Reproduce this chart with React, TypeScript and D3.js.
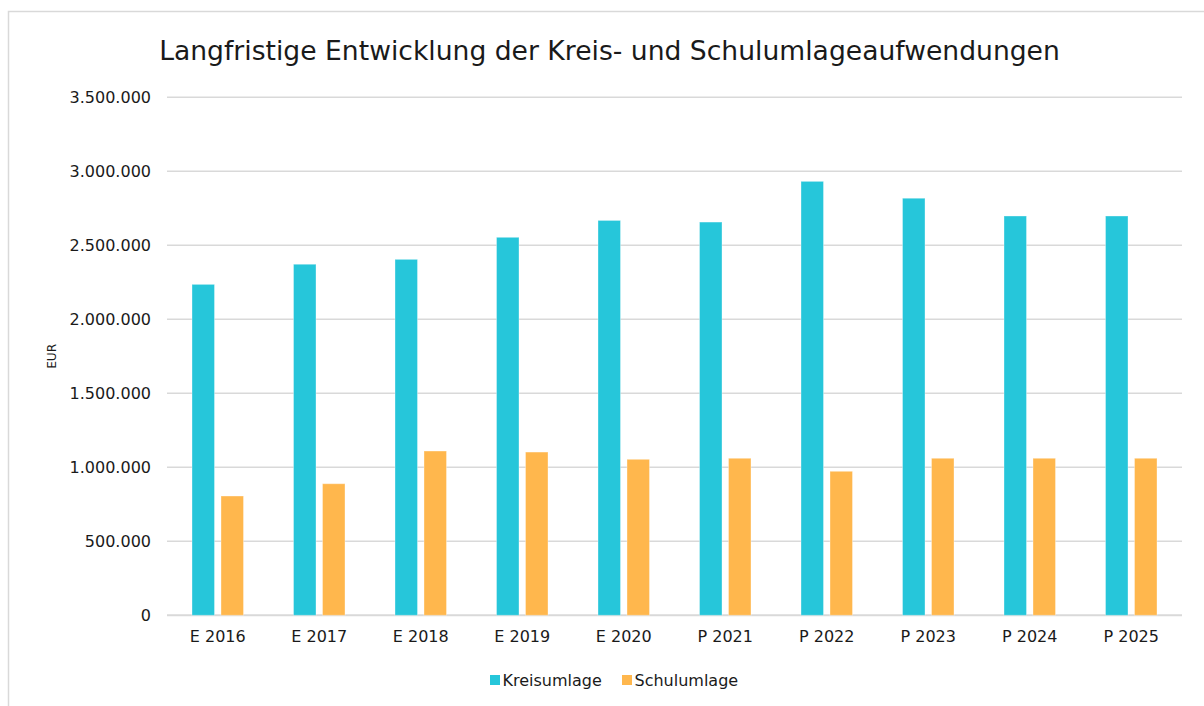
import React from "react";
import * as d3 from "d3";

const categories = ["E 2016", "E 2017", "E 2018", "E 2019", "E 2020", "P 2021", "P 2022", "P 2023", "P 2024", "P 2025"];
const kreisumlage = [2236000, 2372000, 2405000, 2554000, 2668000, 2657000, 2932000, 2818000, 2698000, 2698000];
const schulumlage = [806000, 889000, 1110000, 1103000, 1054000, 1061000, 973000, 1061000, 1061000, 1061000];
const seriesNames = ["Kreisumlage", "Schulumlage"];
const seriesColors = ["#26C6DA", "#FFB74D"];
const yTicks = [0, 500000, 1000000, 1500000, 2000000, 2500000, 3000000, 3500000];
const title = "Langfristige Entwicklung der Kreis- und Schulumlageaufwendungen";

const W = 1204;
const H = 706;
const left = 167;
const right = 1182;
const top = 97.3;
const bottom = 615.3;
const font = "'DejaVu Sans', Verdana, sans-serif";

const fmt = (v: number) => d3.format(",")(v).replace(/,/g, ".");

export default function App() {
  const x = d3.scaleBand<string>().domain(categories).range([left, right]).paddingInner(0).paddingOuter(0);
  const y = d3.scaleLinear().domain([0, 3500000]).range([bottom, top]);
  const groupW = 51.5;
  const x1 = d3.scaleBand<string>().domain(seriesNames).range([0, groupW]).paddingInner(0.224).paddingOuter(0);
  const data = [kreisumlage, schulumlage];

  return (
    <div style={{ position: "absolute", left: 0, top: 0 }}>
      <svg width={W} height={H} style={{ display: "block" }} fontFamily={font}>
        <rect x={0} y={0} width={W} height={H} fill="#fff" />
        <rect x={8.5} y={11.5} width={W} height={H} fill="none" stroke="#d9d9d9" strokeWidth={1.5} />
        <text x={609.5} y={60} textAnchor="middle" fontSize={26.6} fill="#1a1a1a">{title}</text>
        {yTicks.map((t) => (
          <g key={t}>
            <line x1={left} x2={right} y1={y(t)} y2={y(t)} stroke="#d9d9d9" strokeWidth={t === 0 ? 2 : 1.5} />
            <text x={151} y={y(t)} dy="0.36em" textAnchor="end" fontSize={16} fill="#1a1a1a">{fmt(t)}</text>
          </g>
        ))}
        <text transform={`translate(56,${(top + bottom) / 2}) rotate(-90)`} textAnchor="middle" fontSize={12.2} fill="#1a1a1a">EUR</text>
        {categories.map((c, i) => {
          const gx = (x(c) as number) + x.bandwidth() / 2 - groupW / 2;
          return (
            <g key={c}>
              {seriesNames.map((s, j) => (
                <rect
                  key={s}
                  x={gx + (x1(s) as number)}
                  y={y(data[j][i])}
                  width={x1.bandwidth()}
                  height={y(0) - y(data[j][i])}
                  fill={seriesColors[j]}
                  stroke="rgba(255,255,255,0.35)"
                  strokeWidth={1}
                />
              ))}
              <text x={(x(c) as number) + x.bandwidth() / 2} y={642} textAnchor="middle" fontSize={16} fill="#1a1a1a">{c}</text>
            </g>
          );
        })}
        {seriesNames.map((s, j) => {
          const lx = [490, 622][j];
          return (
            <g key={s}>
              <rect x={lx} y={675} width={10} height={10} fill={seriesColors[j]} />
              <text x={lx + 12.5} y={686} fontSize={16} fill="#1a1a1a">{s}</text>
            </g>
          );
        })}
      </svg>
    </div>
  );
}
